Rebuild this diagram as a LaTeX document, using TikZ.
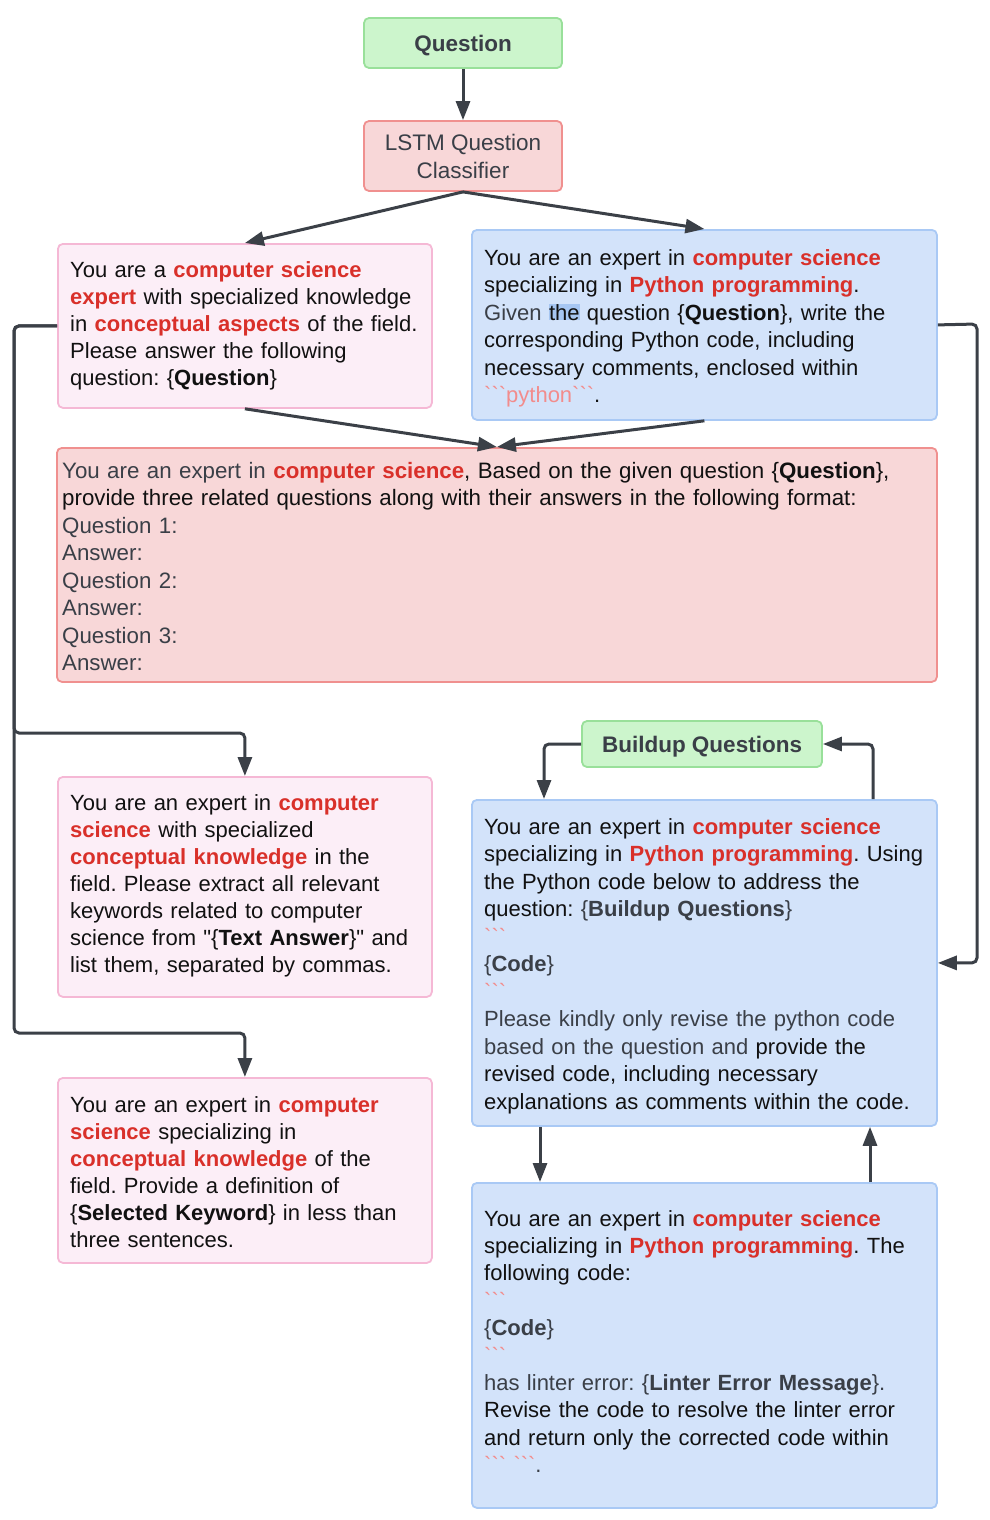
\documentclass[tikz,border=0pt]{standalone}
\usepackage{fontspec}
\setmainfont{Liberation Sans}
\usetikzlibrary{arrows.meta,calc}
\definecolor{gfill}{HTML}{CCF5CC}
\definecolor{gline}{HTML}{99E09A}
\definecolor{rfill}{HTML}{F8D7D8}
\definecolor{rline}{HTML}{F0908F}
\definecolor{pfill}{HTML}{FCEEF7}
\definecolor{pline}{HTML}{F5B8D5}
\definecolor{bfill}{HTML}{D3E3FA}
\definecolor{bline}{HTML}{A9C9F5}
\definecolor{txt}{HTML}{111111}
\definecolor{gtx}{HTML}{3A3F47}
\definecolor{kred}{HTML}{D9302A}
\definecolor{pk}{HTML}{F28C8C}
\definecolor{hlc}{HTML}{A6C6F2}
\definecolor{conn}{HTML}{3B4047}
\newcommand\R[1]{\textbf{\color{kred}#1}}
\newcommand\B[1]{\textbf{#1}}
\newcommand\bt{\XeTeXglyph\XeTeXcharglyph"0060\relax}
\newcommand\dq{\XeTeXglyph\XeTeXcharglyph"0022\relax}
\newcommand\hl[1]{{\setlength\fboxsep{0pt}\colorbox{hlc}{#1}}}
\frenchspacing
\hyphenpenalty=10000
\exhyphenpenalty=10000
\begin{document}
\begin{tikzpicture}[x=1pt,y=-1pt,
  box/.style={draw, line width=1.8pt, rounded corners=5pt, inner sep=0pt},
  gbox/.style={box, fill=gfill, draw=gline},
  rbox/.style={box, fill=rfill, draw=rline},
  pbox/.style={box, fill=pfill, draw=pline},
  bbox/.style={box, fill=bfill, draw=bline},
  label/.style={text=gtx, align=center, text depth=0pt, font={\fontsize{22.5}{28}\selectfont}},
  body/.style={anchor=base west, inner sep=0pt, align=left, text=txt, text width=#1},
  body/.default=462pt,
  conn/.style={draw=conn, line width=3pt, rounded corners=5pt, -{Triangle[length=19pt,width=14pt]}},
]
\useasboundingbox[fill=white] (0,0) rectangle (990,1520);

% boxes
\node[gbox, label, minimum width=198pt, minimum height=50pt] (q) at (463,43) {\B{Question}};
\node[rbox, label, minimum width=198pt, minimum height=70pt] (lstm) at (463,156) {LSTM Question\\Classifier};
\node[pbox, anchor=north west, minimum width=374pt, minimum height=164pt] (lb1) at (57,243) {};
\node[bbox, anchor=north west, minimum width=465pt, minimum height=190pt] (rb1) at (471,229) {};
\node[rbox, anchor=north west, minimum width=880pt, minimum height=234pt] (red) at (56,447) {};
\node[pbox, anchor=north west, minimum width=374pt, minimum height=220pt] (lb2) at (57,776) {};
\node[pbox, anchor=north west, minimum width=374pt, minimum height=185pt] (lb3) at (57,1077) {};
\node[gbox, label, minimum width=240pt, minimum height=46pt] (bq) at (702,744) {\B{Buildup Questions}};
\node[bbox, anchor=north west, minimum width=465pt, minimum height=326pt] (rb2) at (471,799) {};
\node[bbox, anchor=north west, minimum width=465pt, minimum height=325pt] (rb3) at (471,1182) {};

% texts
\node[body, font={\fontsize{22}{27}\selectfont}] (t1) at (70,277) {You are a \R{computer science}\\
\R{expert} with specialized knowledge\\
in \R{conceptual aspects} of the field.\\
Please answer the following\\
question: \{\B{Question}\}};

\node[body, font={\fontsize{22}{27.5}\selectfont}] (t2) at (484,265) {You are an expert in \R{computer science}\\
specializing in \R{Python programming}.\\
{\color{gtx}Given} \hl{the} question \{\B{Question}\}, write the\\
corresponding Python code, including\\
necessary comments, enclosed within\\
{\color{pk}\bt\bt\bt python\bt\bt\bt}.};

\node[body=870pt, font={\fontsize{22.3}{27.5}\selectfont}] (t3) at (62,478) {{\color{gtx}You are an expert in} \R{computer science}, Based on the given question \{\B{Question}\},\\
provide three related questions along with their answers in the following format:\\
{\color{gtx}Question 1:}\\
{\color{gtx}Answer:}\\
{\color{gtx}Question 2:}\\
{\color{gtx}Answer:}\\
{\color{gtx}Question 3:}\\
{\color{gtx}Answer:}};

\node[body, font={\fontsize{22}{27}\selectfont}] (t4) at (70,810) {You are an expert in \R{computer}\\
\R{science} with specialized\\
\R{conceptual knowledge} in the\\
field. Please extract all relevant\\
keywords related to computer\\
science from \dq\{\B{Text Answer}\}\dq{} and\\
list them, separated by commas.};

\node[body, font={\fontsize{22}{27}\selectfont}] (t5) at (70,1112) {You are an expert in \R{computer}\\
\R{science} specializing in\\
\R{conceptual knowledge} of the\\
field. Provide a definition of\\
\{\B{Selected Keyword}\} in less than\\
three sentences.};

\node[body, font={\fontsize{22}{27.5}\selectfont}] (t6) at (484,834) {You are an expert in \R{computer science}\\
specializing in \R{Python programming}. Using\\
the Python code below to address the\\
question: {\color{gtx}\{\B{Buildup Questions}\}}\\
{\color{pk}\bt\bt\bt}\\
{\color{gtx}\{\B{Code}\}}\\
{\color{pk}\bt\bt\bt}\\
{\color{gtx}Please kindly only revise the python code}\\
{\color{gtx}based on the question and} provide the\\
revised code, including necessary\\
explanations as comments within the code.};

\node[body, font={\fontsize{22}{27.4}\selectfont}] (t7) at (484,1226) {You are an expert in \R{computer science}\\
specializing in \R{Python programming}. The\\
following code:\\
{\color{pk}\bt\bt\bt}\\
{\color{gtx}\{\B{Code}\}}\\
{\color{pk}\bt\bt\bt}\\
{\color{gtx}has linter error: \{\B{Linter Error Message}\}.}\\
Revise the code to resolve the linter error\\
and return only the corrected code within\\
{\color{pk}\bt\bt\bt\ \bt\bt\bt}{\color{gtx}.}};

% connectors
\draw[conn] (q.south) -- (lstm.north);
\draw[conn] (lstm.south) -- (lb1.north);
\draw[conn] (lstm.south) -- (rb1.north);
\draw[conn] (lb1.south) -- (red.north);
\draw[conn] (rb1.south) -- (red.north);
\coordinate (lx1) at (14,733);
\coordinate (lx2) at (14,1033);
\draw[conn] (lb1.west) -| (lx1) -| (lb2.north);
\draw[conn] (lb1.west) -| (lx2) -| (lb3.north);
\coordinate (rx) at (977,324);
\draw[conn] (rb1.east) -- (rx) |- (rb2.east);
\coordinate (b2l) at ($(rb2.north west)+(73,0)$);
\coordinate (b2r) at ($(rb2.north west)+(402,0)$);
\draw[conn] (bq.west) -| (b2l);
\draw[conn] (b2r) |- (bq.east);
\coordinate (b2b) at ($(rb2.south west)+(69,0)$);
\coordinate (b3t) at ($(rb3.north west)+(69,0)$);
\draw[conn] (b2b) -- (b3t);
\coordinate (b3r) at ($(rb3.north west)+(399,0)$);
\coordinate (b2br) at ($(rb2.south west)+(399,0)$);
\draw[conn] (b3r) -- (b2br);
\end{tikzpicture}
\end{document}
